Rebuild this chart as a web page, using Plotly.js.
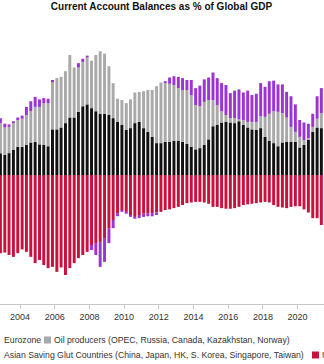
<!DOCTYPE html>
<html>
<head>
<meta charset="utf-8">
<script src="https://cdn.plot.ly/plotly-3.0.1.min.js"></script>
<style>
  html, body { margin: 0; padding: 0; background: #fff; overflow: hidden; }
  #chart { width: 324px; height: 364px; }
</style>
</head>
<body>
<div id="chart"></div>
<script>
// ---- Data (% of global GDP), quarterly ----
const quarters = [
  '2002Q4',
  '2003Q1','2003Q2','2003Q3','2003Q4','2004Q1','2004Q2','2004Q3','2004Q4',
  '2005Q1','2005Q2','2005Q3','2005Q4','2006Q1','2006Q2','2006Q3','2006Q4',
  '2007Q1','2007Q2','2007Q3','2007Q4','2008Q1','2008Q2','2008Q3','2008Q4',
  '2009Q1','2009Q2','2009Q3','2009Q4','2010Q1','2010Q2','2010Q3','2010Q4',
  '2011Q1','2011Q2','2011Q3','2011Q4','2012Q1','2012Q2','2012Q3','2012Q4',
  '2013Q1','2013Q2','2013Q3','2013Q4','2014Q1','2014Q2','2014Q3','2014Q4',
  '2015Q1','2015Q2','2015Q3','2015Q4','2016Q1','2016Q2','2016Q3','2016Q4',
  '2017Q1','2017Q2','2017Q3','2017Q4','2018Q1','2018Q2','2018Q3','2018Q4',
  '2019Q1','2019Q2','2019Q3','2019Q4','2020Q1','2020Q2','2020Q3','2020Q4',
  '2021Q1','2021Q2'
];

const asianSavingGlut = [
  0.35,0.32,0.35,0.40,0.45,0.45,0.48,0.52,0.53,0.49,0.48,0.46,
  0.73,0.73,0.76,0.83,0.92,0.92,1.01,1.10,1.13,1.07,1.02,0.98,0.98,0.96,
  0.91,0.85,0.80,0.72,0.75,0.83,0.85,0.75,0.69,0.61,0.51,0.51,0.53,0.53,0.55,0.55,0.53,0.50,0.45,0.41,0.43,0.48,0.57,
  0.78,0.80,0.84,0.85,0.84,0.83,0.86,0.80,0.76,0.73,0.72,0.75,0.61,0.55,0.51,0.46,0.52,0.53,0.53,0.53,0.44,0.48,0.56,0.69,0.76,0.75
];

const oilProducers = [
  0.48,0.44,0.42,0.43,0.43,0.45,0.48,0.50,0.56,0.60,0.67,0.69,
  0.75,0.82,0.81,0.83,1.00,0.80,0.71,0.71,0.75,0.76,0.90,1.00,0.96,0.78,
  0.56,0.37,0.40,0.43,0.46,0.49,0.48,0.59,0.67,0.75,0.91,0.97,0.94,0.93,0.89,0.84,0.83,0.86,0.83,0.71,0.67,0.69,0.63,
  0.42,0.32,0.18,0.11,0.07,0.08,0.03,0.08,0.09,0.12,0.13,0.19,0.32,0.43,0.51,0.55,0.47,0.39,0.24,0.16,0.17,0.08,0.03,0.08,0.14,0.24
];

const eurozone = [
  0.08,0.06,0.04,0.03,0.04,0.05,0.13,0.16,0.16,0.12,0.08,0.07,0.04,
  0,0,0,0,0,
  0.07,0.05,0.03,
  -0.08,-0.19,-0.40,-0.37,-0.24,-0.13,-0.05,-0.03,-0.03,-0.03,-0.03,-0.05,-0.05,-0.05,-0.05,-0.04,
  0,
  0.03,0.10,0.14,0.18,0.19,0.16,0.24,0.27,0.33,0.36,0.36,
  0.44,0.43,0.45,0.48,0.40,0.44,0.48,0.44,0.50,0.43,0.45,0.53,0.48,0.52,0.49,0.44,0.46,0.41,0.49,0.44,0.27,0.28,0.23,0.21,0.36,0.40
];

const unitedStates = [
  -1.25,-1.24,-1.28,-1.31,-1.25,-1.19,-1.23,-1.31,-1.41,-1.36,-1.44,-1.49,-1.47,-1.55,-1.48,-1.60,-1.49,-1.41,-1.33,-1.28,-1.23,
  -1.12,-1.09,-1.07,-1.02,-0.85,-0.72,-0.61,-0.56,-0.59,-0.64,-0.67,-0.64,-0.62,-0.61,-0.61,-0.60,
  -0.59,-0.56,-0.55,-0.53,-0.51,-0.48,-0.45,-0.44,-0.43,-0.43,-0.44,-0.46,
  -0.51,-0.51,-0.53,-0.54,-0.54,-0.53,-0.51,-0.48,-0.47,-0.46,-0.45,-0.44,-0.43,-0.44,-0.48,-0.51,-0.52,-0.53,-0.51,-0.50,-0.50,-0.55,-0.60,-0.69,-0.69,-0.80
];

const seriesNames = [
  'Eurozone',
  'Oil producers (OPEC, Russia, Canada, Kazakhstan, Norway)',
  'Asian Saving Glut Countries (China, Japan, HK, S. Korea, Singapore, Taiwan)',
  'U.S.'
];
const chartTitle = 'Current Account Balances as % of Global GDP';

// ---- Styles ----
const COL = { euro: '#9b34d1', oil: '#a9a9a9', asia: '#111111', us: '#c8113f' };
const FONT = 'Liberation Sans, Arial, sans-serif';
const W = 324, H = 364, MT = 40, MB = 60;

// quarter label -> mid-quarter date
function qDate(q) {
  const y = q.slice(0, 4), n = +q.slice(5);
  const m = (n - 1) * 3 + 2;
  return y + '-' + String(m).padStart(2, '0') + '-15';
}
const x = quarters.map(qDate);

function bar(name, y, color) {
  return { type: 'bar', name, x, y, marker: { color, line: { width: 0 } }, hoverinfo: 'skip' };
}
// order chosen so positive stack = Asia, Oil, Eurozone and negative = US, Eurozone
const data = [
  bar(seriesNames[2], asianSavingGlut, COL.asia),
  bar(seriesNames[1], oilProducers, COL.oil),
  bar(seriesNames[3], unitedStates, COL.us),
  bar(seriesNames[0], eurozone, COL.euro)
];

// legend built from annotations + small square shapes (pixel positions)
const plotH = H - MT - MB;
const px = v => v / W;
const py = v => (H - MB - v) / plotH;
const legendItems = [
  { name: seriesNames[0], color: COL.euro, sq: -11, tx: 2, row: 340 },
  { name: seriesNames[1], color: COL.oil,  sq: 44,  tx: 52, row: 340 },
  { name: seriesNames[2], color: COL.asia, sq: -11, tx: 2, row: 355 },
  { name: seriesNames[3], color: COL.us,   sq: 312, tx: 320, row: 355 }
];
const annotations = legendItems.map(it => ({
  xref: 'paper', yref: 'paper', x: px(it.tx), y: py(it.row),
  xanchor: 'left', yanchor: 'middle', showarrow: false, text: it.name,
  font: { family: FONT, size: 8.7, color: '#333' }
}));
const shapes = legendItems.map(it => ({
  type: 'rect', xref: 'paper', yref: 'paper', layer: 'above',
  x0: px(it.sq), x1: px(it.sq + 7), y0: py(it.row + 3.5), y1: py(it.row - 3.5),
  fillcolor: it.color, line: { width: 0 }
}));

const layout = {
  width: W, height: H,
  margin: { l: 0, r: 0, t: MT, b: MB, pad: 0 },
  paper_bgcolor: '#fff', plot_bgcolor: '#fff',
  barmode: 'relative', bargap: 0.3,
  showlegend: false,
  title: {
    text: chartTitle, xref: 'container', yref: 'container',
    x: 161.5 / W, xanchor: 'center', y: 1 - 6.5 / H, yanchor: 'middle',
    font: { family: FONT, size: 10, color: '#111', weight: 'bold' }
  },
  xaxis: {
    type: 'date', range: ['2002-11-06', '2021-07-10'],
    tick0: '2004-01-01', dtick: 'M24', tickformat: '%Y',
    ticks: 'outside', ticklen: 4, tickcolor: '#c8c8c8', tickwidth: 1,
    showline: true, linecolor: '#c8c8c8', linewidth: 1,
    showgrid: false, zeroline: false,
    tickfont: { family: FONT, size: 9, color: '#333' }
  },
  yaxis: { range: [-2.064, 2.16], visible: false, showgrid: false, zeroline: false },
  annotations, shapes
};

Plotly.newPlot('chart', data, layout, { staticPlot: true, displayModeBar: false });
</script>
</body>
</html>
